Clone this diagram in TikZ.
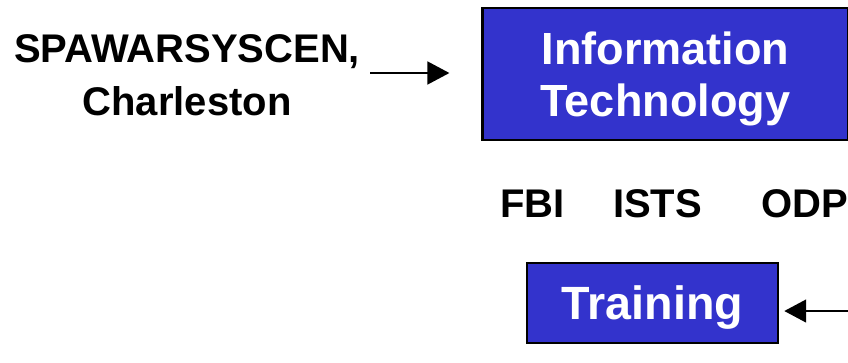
\documentclass[tikz,border=0pt]{standalone}
\usepackage{fontspec}
\setmainfont{Liberation Sans}
\usetikzlibrary{positioning}
\usetikzlibrary{arrows.meta}

\definecolor{boxblue}{HTML}{3333CC}

\begin{document}
\begin{tikzpicture}[x=0.75pt,y=-0.75pt,
	box/.style={draw=black,line width=1.6pt,fill=boxblue,text=white,align=center,inner sep=0pt,text depth=0pt},
	lbl/.style={font=\bfseries\fontsize{30}{40}\selectfont,align=center,inner sep=0pt},
	arr/.style={line width=2pt,-{Triangle[length=16.5pt,width=17pt]}}]
	\useasboundingbox (0,0) rectangle (848,362);
	\node[box,font=\bfseries\fontsize{33.8}{39}\selectfont,minimum width=274.5pt,minimum height=99pt] (IT) at (665.5,74) {Information\\Technology};
	\node[box,font=\bfseries\fontsize{35}{40}\selectfont,minimum width=188pt,minimum height=60pt] (TR) at (652.5,303) {Training};
	\node[lbl] (SP) at (187,75) {SPAWARSYSCEN,\\Charleston};
	\node[lbl,anchor=base] (FBI) at (532.5,217) {FBI};
	\node[lbl,anchor=base] (ISTS) at (657.5,217) {ISTS};
	\node[lbl,anchor=base] (ODP) at (804.5,217) {ODP};
	\coordinate (A0) at (370,73);
	\coordinate (B0) at (852,311);
	\draw[arr] (A0) -- ([xshift=-24pt]IT.west |- A0);
	\draw[arr] (B0) -- ([xshift=4pt]TR.east |- B0);
\end{tikzpicture}
\end{document}
